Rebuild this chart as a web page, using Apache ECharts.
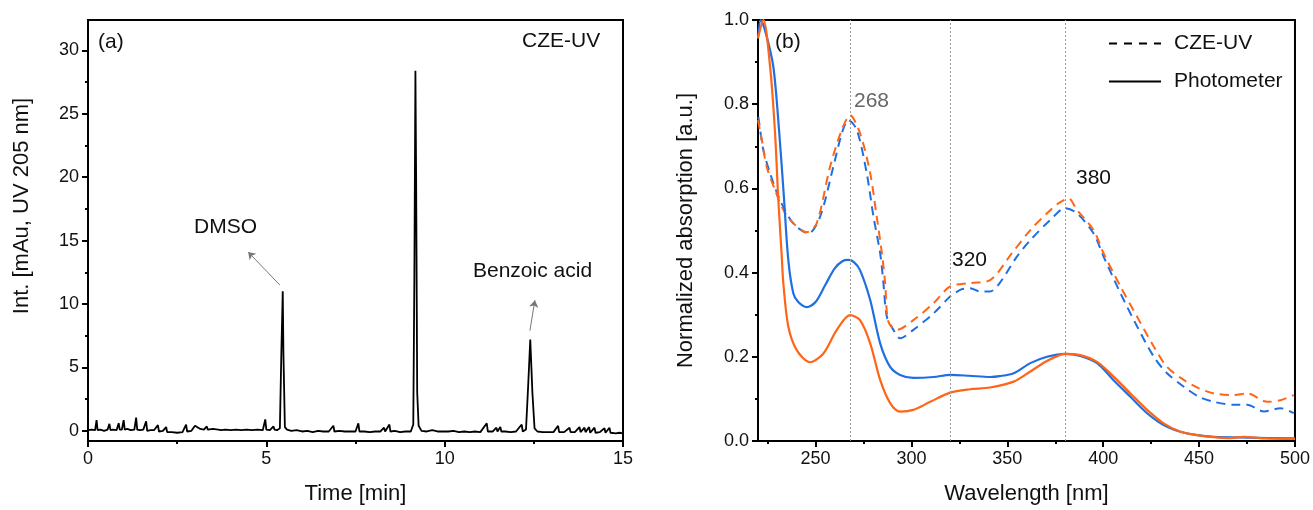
<!DOCTYPE html>
<html>
<head>
<meta charset="utf-8">
<script src="https://cdn.jsdelivr.net/npm/echarts@6/dist/echarts.min.js"></script>
<style>
  html, body { margin: 0; padding: 0; background: #fff; }
  #chart { width: 1313px; height: 510px; }
</style>
</head>
<body>
<div id="chart"></div>
<script>
  // (a) electropherogram, CZE-UV at 205 nm
  const timeMin = [
    0.00, 0.10, 0.20, 0.24, 0.27, 0.35, 0.45, 0.55, 0.60, 0.63, 0.70, 0.80, 0.86, 0.89, 0.95, 1.00, 1.03,
    1.10, 1.20, 1.30, 1.35, 1.38, 1.45, 1.55, 1.63, 1.66, 1.75, 1.85, 1.96, 1.99, 2.10, 2.19, 2.22, 2.35,
    2.50, 2.65, 2.75, 2.78, 2.90, 3.00, 3.05, 3.15, 3.25, 3.33, 3.36, 3.50, 3.65, 3.70, 3.73, 3.85, 4.00,
    4.15, 4.30, 4.45, 4.60, 4.75, 4.90, 4.97, 5.00, 5.10, 5.20, 5.23, 5.30, 5.38, 5.42, 5.46, 5.48, 5.52,
    5.58, 5.70, 5.85, 6.00, 6.15, 6.30, 6.45, 6.60, 6.75, 6.88, 6.91, 7.05, 7.20, 7.35, 7.50, 7.58, 7.61,
    7.75, 7.90, 8.05, 8.20, 8.30, 8.33, 8.45, 8.48, 8.60, 8.75, 8.90, 9.05, 9.12, 9.15, 9.18, 9.20, 9.23,
    9.27, 9.35, 9.50, 9.65, 9.80, 9.95, 10.10, 10.25, 10.40, 10.55, 10.70, 10.85, 11.00, 11.18, 11.21,
    11.35, 11.45, 11.48, 11.56, 11.59, 11.70, 11.85, 12.00, 12.16, 12.19, 12.28, 12.34, 12.40, 12.46,
    12.52, 12.60, 12.75, 12.90, 13.05, 13.18, 13.21, 13.35, 13.50, 13.53, 13.65, 13.78, 13.81, 13.92,
    13.95, 14.05, 14.08, 14.20, 14.23, 14.35, 14.48, 14.51, 14.62, 14.65, 14.80, 14.90, 15.00
  ];
  const intensity = [
    0.05, 0.10, 0.05, 0.85, 0.05, 0.10, 0.00, 0.10, 0.55, 0.05, 0.10, 0.05, 0.60, 0.10, 0.10, 0.85, 0.10,
    0.15, 0.05, 0.10, 1.05, 0.10, 0.05, 0.10, 0.75, 0.00, 0.05, 0.05, 0.45, -0.05, 0.00, 0.30, -0.10, -0.10,
    -0.15, -0.10, 0.50, -0.05, 0.00, 0.40, 0.30, 0.15, 0.10, 0.35, 0.10, 0.15, 0.10, 0.25, 0.05, 0.10, 0.05,
    0.10, 0.05, 0.10, 0.05, 0.10, 0.05, 0.90, 0.10, 0.05, 0.35, 0.10, 0.05, 0.20, 6.00, 11.00, 6.00, 0.30,
    0.10, 0.00, 0.05, -0.05, 0.00, -0.10, 0.00, -0.05, -0.05, 0.40, -0.05, 0.00, -0.05, -0.05, -0.05, 0.60, -0.05,
    -0.05, -0.10, -0.05, -0.05, 0.25, -0.05, 0.50, -0.05, 0.00, -0.10, -0.05, -0.05, 0.50, 12.0, 28.4, 20.0, 3.00,
    0.40, 0.00, -0.05, 0.05, -0.05, -0.05, -0.05, 0.00, -0.10, -0.05, -0.10, -0.05, -0.10, 0.60, -0.05,
    -0.05, 0.25, -0.05, 0.30, -0.05, -0.05, -0.10, -0.05, 0.50, -0.05, 0.10, 3.50, 7.20, 3.00,
    0.20, -0.05, -0.10, -0.10, -0.10, 0.40, -0.10, -0.10, 0.25, -0.10, -0.10, 0.30, -0.10, 0.25,
    -0.10, 0.30, -0.15, 0.25, -0.15, -0.10, 0.20, -0.15, 0.25, -0.15, -0.20, -0.15, -0.20
  ];
  const intTicks = [0, 5, 10, 15, 20, 25, 30];
  const intMinorTicks = [2.5, 7.5, 12.5, 17.5, 22.5, 27.5];

  // (b) normalized spectra
  const czeBlueNm = [220.2, 222.8, 226.3, 231.5, 238.4, 246.3, 252.4, 259.3, 264, 267.1, 271.5, 276.7, 280.2, 283.7,
    285.4, 287.2, 290.6, 294.1, 301, 311.5, 320.2, 326, 330.6, 336, 341, 346, 355, 362, 372.4, 380.2, 386.3, 395,
    400.2, 409, 417.7, 426.4, 433.3, 442, 450, 457.7, 468.1, 475, 483.8, 492.5, 499.4];
  const czeBlueAbs = [0.770, 0.691, 0.636, 0.572, 0.517, 0.493, 0.533, 0.652, 0.735, 0.762, 0.739, 0.636, 0.533, 0.446,
    0.375, 0.295, 0.264, 0.244, 0.264, 0.303, 0.343, 0.360, 0.363, 0.355, 0.355, 0.375, 0.438, 0.477, 0.525, 0.553, 0.541, 0.493,
    0.438, 0.351, 0.272, 0.200, 0.161, 0.129, 0.105, 0.093, 0.086, 0.086, 0.070, 0.078, 0.066];
  const czeOrangeNm = [220, 222, 224.5, 228.9, 233.2, 238.4, 245.4, 250.6, 257.6, 263.7, 268, 273.2, 278.5, 281.9, 284.6,
    286.3, 288, 292.4, 301, 311.5, 320.2, 330.6, 341, 352.4, 362, 370.7, 376.8, 382, 386.3, 395, 400.2, 409, 417.7,
    426.4, 433.3, 442, 450, 457.7, 468.1, 475, 485.6, 492.5, 499.4];
  const czeOrangeAbs = [0.762, 0.715, 0.652, 0.596, 0.549, 0.517, 0.496, 0.517, 0.652, 0.739, 0.774, 0.731, 0.636, 0.533, 0.446,
    0.375, 0.283, 0.264, 0.287, 0.327, 0.367, 0.375, 0.382, 0.446, 0.501, 0.541, 0.565, 0.576, 0.549, 0.501, 0.446, 0.367, 0.295,
    0.224, 0.176, 0.145, 0.125, 0.113, 0.109, 0.113, 0.093, 0.097, 0.109];
  const photoBlueNm = [220, 221.5, 224, 228, 231.1, 233.5, 235.8, 238.4, 241, 245.4, 250, 255, 260, 264, 267.1, 270, 273.2,
    278.5, 283.7, 288.9, 294.1, 301, 311.5, 320.2, 330, 341, 346, 353.3, 362, 370.7, 380.2, 388, 396.8, 405.3, 414.2,
    422.9, 431.5, 440.3, 449, 457.6, 475, 500];
  const photoBlueAbs = [0.96, 1.0, 0.97, 0.889, 0.731, 0.58, 0.43, 0.351, 0.33, 0.318, 0.33, 0.37, 0.41, 0.427, 0.430, 0.425, 0.406,
    0.335, 0.232, 0.176, 0.157, 0.150, 0.152, 0.157, 0.155, 0.152, 0.154, 0.161, 0.185, 0.200, 0.207, 0.202, 0.185, 0.145, 0.105,
    0.066, 0.038, 0.022, 0.014, 0.010, 0.008, 0.006];
  const photoOrangeNm = [220, 222.8, 226.3, 228.9, 230.6, 232.4, 233.2, 235.8, 240.2, 247.1, 254.1, 261.1, 268, 273.2,
    278.5, 283.7, 288.9, 294.1, 301, 309.8, 320.2, 330.6, 341, 353.3, 362, 370.7, 380.2, 388, 396.8, 405.4, 414.2,
    422.9, 431.5, 440.3, 449, 457.6, 466, 473.3, 483.7, 500];
  const photoOrangeAbs = [0.956, 1.0, 0.889, 0.731, 0.572, 0.438, 0.375, 0.272, 0.216, 0.187, 0.208, 0.264, 0.299, 0.287,
    0.232, 0.145, 0.090, 0.070, 0.074, 0.093, 0.115, 0.123, 0.127, 0.141, 0.165, 0.190, 0.207, 0.204, 0.188, 0.153, 0.113,
    0.074, 0.042, 0.022, 0.014, 0.009, 0.007, 0.010, 0.006, 0.005];
  const peakLines = [268, 320, 380];
  const nmTicks = [250, 300, 350, 400, 450, 500];
  const nmMinorTicks = [225, 275, 325, 375, 425, 475];

  const FONT = 'Liberation Sans';
  const BLUE = '#1f6fe3';
  const ORANGE = '#ff6516';

  const zip = (xs, ys) => xs.map((x, i) => [x, ys[i]]);

  const chart = echarts.init(document.getElementById('chart'), null, { renderer: 'canvas' });

  const baseAxis = {
    axisLine: { show: true, onZero: false, lineStyle: { color: '#000', width: 2 } },
    axisTick: { show: true, length: 6, lineStyle: { color: '#000', width: 2 } },
    axisLabel: { color: '#111', fontFamily: FONT, fontSize: 18, margin: 9 },
    splitLine: { show: false }
  };
  const minorAxis = {
    axisLine: { show: false, onZero: false },
    axisLabel: { show: false },
    splitLine: { show: false }
  };

  const option = {
    animation: false,
    textStyle: { fontFamily: FONT },
    grid: [
      { left: 88, top: 20, width: 535, height: 421, show: true, borderColor: '#000', borderWidth: 2 },
      { left: 758, top: 20, width: 537, height: 421, show: true, borderColor: '#000', borderWidth: 2 }
    ],
    xAxis: [
      Object.assign({}, baseAxis, {
        gridIndex: 0, type: 'value', min: 0, max: 15, interval: 5,
        minorTick: { show: true, splitNumber: 2, length: 3, lineStyle: { color: '#000', width: 2 } },
        name: 'Time [min]', nameLocation: 'middle', nameGap: 42,
        nameTextStyle: { color: '#111', fontFamily: FONT, fontSize: 22 }
      }),
      Object.assign({}, baseAxis, {
        gridIndex: 1, type: 'value', min: 220, max: 500,
        axisTick: Object.assign({}, baseAxis.axisTick, { customValues: nmTicks }),
        axisLabel: Object.assign({}, baseAxis.axisLabel, { customValues: nmTicks }),
        name: 'Wavelength [nm]', nameLocation: 'middle', nameGap: 42,
        nameTextStyle: { color: '#111', fontFamily: FONT, fontSize: 22 }
      }),
      Object.assign({}, minorAxis, {
        gridIndex: 1, type: 'value', min: 220, max: 500, position: 'bottom',
        axisTick: { show: true, length: 3, customValues: nmMinorTicks, lineStyle: { color: '#000', width: 2 } }
      })
    ],
    yAxis: [
      Object.assign({}, baseAxis, {
        gridIndex: 0, type: 'value', min: -0.8, max: 32.4,
        axisTick: Object.assign({}, baseAxis.axisTick, { customValues: intTicks }),
        axisLabel: Object.assign({}, baseAxis.axisLabel, { customValues: intTicks })
      }),
      Object.assign({}, minorAxis, {
        gridIndex: 0, type: 'value', min: -0.8, max: 32.4, position: 'left',
        axisTick: { show: true, length: 3, customValues: intMinorTicks, lineStyle: { color: '#000', width: 2 } }
      }),
      Object.assign({}, baseAxis, {
        gridIndex: 1, type: 'value', min: 0, max: 1, interval: 0.2,
        minorTick: { show: true, splitNumber: 2, length: 3, lineStyle: { color: '#000', width: 2 } },
        axisLabel: Object.assign({}, baseAxis.axisLabel, { formatter: v => v.toFixed(1) }),
        name: 'Normalized absorption [a.u.]', nameLocation: 'middle', nameGap: 61,
        nameTextStyle: { color: '#111', fontFamily: FONT, fontSize: 22 }
      })
    ],
    legend: {
      orient: 'vertical', left: 1103, top: 28, itemWidth: 52, itemHeight: 14, itemGap: 17,
      itemStyle: { opacity: 0 },
      textStyle: { fontFamily: FONT, fontSize: 21, color: '#111', padding: [0, 0, 0, 8] },
      data: ['CZE-UV', 'Photometer'],
      selectedMode: false
    },
    series: [
      {
        type: 'line', xAxisIndex: 0, yAxisIndex: 0, data: zip(timeMin, intensity),
        showSymbol: false, lineStyle: { color: '#000', width: 1.8 },
        markLine: {
          silent: true, symbol: ['none', 'arrow'], symbolSize: 7,
          lineStyle: { color: '#777', width: 1, type: 'solid' },
          label: { show: false },
          data: [
            [{ coord: [5.38, 11.5] }, { coord: [4.49, 14.1] }],
            [{ coord: [12.39, 7.9] }, { coord: [12.53, 10.3] }]
          ]
        }
      },
      {
        name: 'czeBlue', type: 'line', xAxisIndex: 1, yAxisIndex: 2, data: zip(czeBlueNm, czeBlueAbs),
        showSymbol: false, smooth: 0.3,
        lineStyle: { color: BLUE, width: 2, type: [9, 6] }
      },
      {
        name: 'czeOrange', type: 'line', xAxisIndex: 1, yAxisIndex: 2, data: zip(czeOrangeNm, czeOrangeAbs),
        showSymbol: false, smooth: 0.3,
        lineStyle: { color: ORANGE, width: 2, type: [9, 6] }
      },
      {
        name: 'photoBlue', type: 'line', xAxisIndex: 1, yAxisIndex: 2, data: zip(photoBlueNm, photoBlueAbs),
        showSymbol: false, smooth: 0.3,
        lineStyle: { color: BLUE, width: 2.2 },
        markLine: {
          silent: true, symbol: 'none',
          lineStyle: { color: '#999', width: 1, type: [2, 2] },
          label: { show: false },
          data: peakLines.map(v => ({ xAxis: v }))
        }
      },
      {
        name: 'photoOrange', type: 'line', xAxisIndex: 1, yAxisIndex: 2, data: zip(photoOrangeNm, photoOrangeAbs),
        showSymbol: false, smooth: 0.3,
        lineStyle: { color: ORANGE, width: 2.2 }
      },
      {
        name: 'CZE-UV', type: 'line', xAxisIndex: 1, yAxisIndex: 2, data: [],
        symbol: 'none', itemStyle: { color: '#000', opacity: 0 }, lineStyle: { color: '#000', width: 2, type: [8, 7] }
      },
      {
        name: 'Photometer', type: 'line', xAxisIndex: 1, yAxisIndex: 2, data: [],
        symbol: 'none', itemStyle: { color: '#000', opacity: 0 }, lineStyle: { color: '#000', width: 2 }
      }
    ],
    graphic: [
      { type: 'text', left: 98, top: 32, style: { text: '(a)', font: '21px "Liberation Sans"', fill: '#111' } },
      { type: 'text', left: 522, top: 31, style: { text: 'CZE-UV', font: '21px "Liberation Sans"', fill: '#111' } },
      { type: 'text', left: 194, top: 217, style: { text: 'DMSO', font: '21px "Liberation Sans"', fill: '#111' } },
      { type: 'text', left: 473, top: 261, style: { text: 'Benzoic acid', font: '21px "Liberation Sans"', fill: '#111' } },
      {
        type: 'text', x: 22, y: 206, rotation: Math.PI / 2,
        style: { text: 'Int. [mAu, UV 205 nm]', font: '22px "Liberation Sans"', fill: '#111', align: 'center', verticalAlign: 'middle' }
      },
      { type: 'text', left: 775, top: 32, style: { text: '(b)', font: '21px "Liberation Sans"', fill: '#111' } },
      { type: 'text', left: 854, top: 91, style: { text: '268', font: '21px "Liberation Sans"', fill: '#666' } },
      { type: 'text', left: 952, top: 250, style: { text: '320', font: '21px "Liberation Sans"', fill: '#111' } },
      { type: 'text', left: 1076, top: 168, style: { text: '380', font: '21px "Liberation Sans"', fill: '#111' } }
    ]
  };

  chart.setOption(option);
</script>
</body>
</html>
